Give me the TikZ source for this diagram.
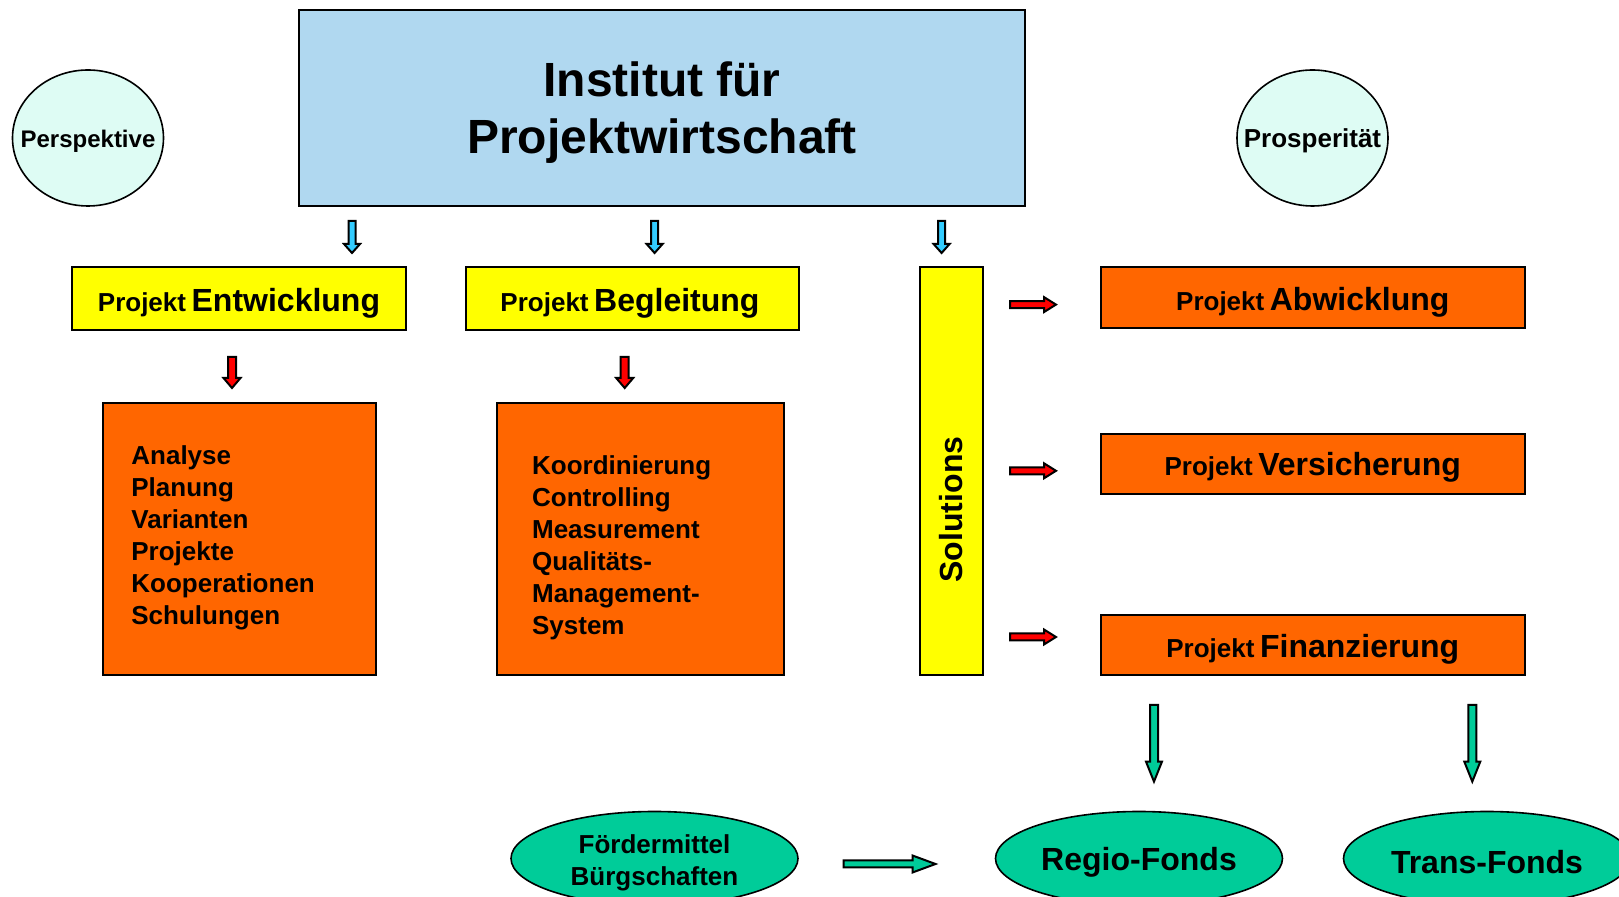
\documentclass[tikz,border=0pt]{standalone}
\usepackage{fontspec}
\setmainfont{Liberation Sans}
\usetikzlibrary{shapes.geometric}
\definecolor{boxblue}{RGB}{176,216,240}
\definecolor{boxorange}{RGB}{255,102,0}
\definecolor{boxyellow}{RGB}{255,255,0}
\definecolor{ellgreen}{RGB}{0,204,153}
\definecolor{circcyan}{RGB}{222,252,244}
\definecolor{arrblue}{RGB}{51,204,255}
\definecolor{arrred}{RGB}{255,0,0}
\newcommand\fsSmall{\fontsize{13}{16}\selectfont}
\newcommand\fsBig{\fontsize{16}{19}\selectfont}
\newcommand\vArr[7]{%
  \draw[arrline, fill=#1] ({#2-#5},#3) -- ({#2+#5},#3) -- ({#2+#5},{#4-#7}) -- ({#2+#6},{#4-#7}) -- (#2,#4) -- ({#2-#6},{#4-#7}) -- ({#2-#5},{#4-#7}) -- cycle;}
\newcommand\hArr[7]{%
  \draw[arrline, fill=#1] (#2,{#4-#5}) -- ({#3-#7},{#4-#5}) -- ({#3-#7},{#4-#6}) -- (#3,#4) -- ({#3-#7},{#4+#6}) -- ({#3-#7},{#4+#5}) -- (#2,{#4+#5}) -- cycle;}
\begin{document}
\begin{tikzpicture}[x=0.5pt,y=-0.5pt, font=\bfseries,
  box/.style={draw=black, line width=1pt, rectangle, inner sep=0pt, align=center},
  ell/.style={draw=black, line width=0.8pt, ellipse, inner sep=0pt},
  lbl/.style={inner sep=0pt, align=center},
  arrline/.style={draw=black, line width=1pt, line join=miter}]
\useasboundingbox (0,0) rectangle (1619,897);

% top box
\node[box, fill=boxblue, minimum width=363pt, minimum height=98.25pt] (inst) at (662,108.25) {};
\node[lbl, font=\bfseries\fontsize{24}{28.5}\selectfont] (instt) at (662,113) {Institut für\\Projektwirtschaft};

% circles
\node[ell, fill=circcyan, minimum width=75.5pt, minimum height=68pt] (persp) at (88,138) {};
\node[lbl, font=\bfseries\fontsize{12}{14}\selectfont] (perspt) at (88,141) {Perspektive};
\node[ell, fill=circcyan, minimum width=75.5pt, minimum height=68pt] (prosp) at (1312.5,138) {};
\node[lbl, font=\bfseries\fontsize{13}{15}\selectfont] (prospt) at (1312.5,141) {Prosperität};

% blue arrows
\vArr{arrblue}{352}{221}{253}{3.5}{8}{9}
\vArr{arrblue}{654.6}{221}{253}{3.5}{8}{9}
\vArr{arrblue}{941.6}{221}{253}{3.5}{8}{9}

% yellow boxes
\node[box, fill=boxyellow, minimum width=167pt, minimum height=31.5pt] (entw) at (239,299) {};
\node[lbl] (entwt) at (239,303) {{\fsSmall Projekt} {\fsBig Entwicklung}};
\node[box, fill=boxyellow, minimum width=166.7pt, minimum height=31.5pt] (begl) at (632.3,299) {};
\node[lbl] (beglt) at (630,303) {{\fsSmall Projekt} {\fsBig Begleitung}};

% red down arrows
\vArr{arrred}{232}{357}{388}{4}{8.5}{10}
\vArr{arrred}{624.7}{357}{388}{4}{8.5}{10}

% orange list boxes
\node[box, fill=boxorange, minimum width=136.5pt, minimum height=136.2pt] (list1) at (239.5,538.9) {};
\node[anchor=north west, inner sep=0pt, align=left, font=\bfseries\fsSmall] (list1t) at (131,445) {Analyse\\Planung\\Varianten\\Projekte\\Kooperationen\\Schulungen};
\node[box, fill=boxorange, minimum width=143.5pt, minimum height=136.2pt] (list2) at (640.2,538.9) {};
\node[anchor=north west, inner sep=0pt, align=left, font=\bfseries\fsSmall] (list2t) at (531.7,455) {Koordinierung\\Controlling\\Measurement\\Qualitäts-\\Management-\\System};

% solutions
\node[box, fill=boxyellow, minimum width=31.5pt, minimum height=203.8pt] (sol) at (951.5,471.2) {};
\node[rotate=90, inner sep=0pt, font=\bfseries\fsBig] (solt) at (951.5,509.5) {Solutions};

% red right arrows
\hArr{arrred}{1010}{1056}{304.6}{3.5}{7.5}{12}
\hArr{arrred}{1010}{1056}{470.8}{3.5}{7.5}{12}
\hArr{arrred}{1010}{1056}{637}{3.5}{7.5}{12}

% right orange boxes
\node[box, fill=boxorange, minimum width=212.2pt, minimum height=30.5pt] (abw) at (1312.8,297.9) {};
\node[lbl] (abwt) at (1312.8,302) {{\fsSmall Projekt} {\fsBig Abwicklung}};
\node[box, fill=boxorange, minimum width=212.2pt, minimum height=30pt] (vers) at (1312.8,463.6) {};
\node[lbl] (verst) at (1312.8,467.6) {{\fsSmall Projekt} {\fsBig Versicherung}};
\node[box, fill=boxorange, minimum width=212.2pt, minimum height=30pt] (fin) at (1312.8,645.2) {};
\node[lbl] (fint) at (1312.8,649.5) {{\fsSmall Projekt} {\fsBig Finanzierung}};

% green down arrows
\vArr{ellgreen}{1154}{705}{781.6}{4}{8}{20}
\vArr{ellgreen}{1472.3}{705}{781.6}{4}{8}{20}

% bottom ellipses
\node[ell, fill=ellgreen, minimum width=143.5pt, minimum height=47pt] (foerd) at (654.5,858.5) {};
\node[lbl, font=\bfseries\fsSmall] (foerdt) at (654.5,862.5) {Fördermittel\\Bürgschaften};
\node[ell, fill=ellgreen, minimum width=143.5pt, minimum height=47pt] (regio) at (1139,858.5) {};
\node[lbl, font=\bfseries\fsBig] (regiot) at (1139,862.5) {Regio-Fonds};
\node[ell, fill=ellgreen, minimum width=143.5pt, minimum height=47pt] (trans) at (1487,858.5) {};
\node[lbl, font=\bfseries\fsBig] (transt) at (1487,862.5) {Trans-Fonds};

% green right arrow
\hArr{ellgreen}{843.6}{935.5}{864}{3.5}{8.5}{23}
\end{tikzpicture}
\end{document}
